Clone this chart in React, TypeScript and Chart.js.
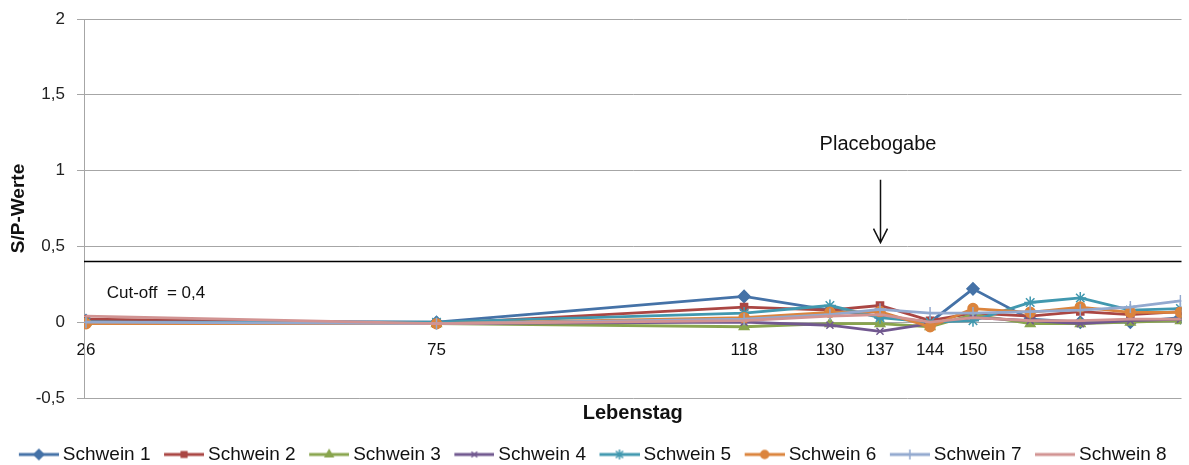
import React, { useEffect, useRef } from "react";
import { Chart, registerables } from "chart.js";
import { drawPoint } from "chart.js/helpers";

Chart.register(...registerables);

// ---- Data ----
const days = [26, 75, 118, 130, 137, 144, 150, 158, 165, 172, 179];
const seriesNames = ["Schwein 1", "Schwein 2", "Schwein 3", "Schwein 4", "Schwein 5", "Schwein 6", "Schwein 7", "Schwein 8"];
const schwein1 = [0.01, 0.0, 0.17, 0.08, 0.04, 0.0, 0.22, 0.02, 0.0, 0.0, 0.03];
const schwein2 = [0.02, -0.01, 0.1, 0.08, 0.11, 0.01, 0.06, 0.04, 0.07, 0.05, 0.07];
const schwein3 = [0.0, -0.01, -0.03, -0.01, -0.01, -0.03, 0.05, -0.01, -0.01, 0.0, 0.01];
const schwein4 = [0.0, -0.01, 0.0, -0.02, -0.06, -0.01, 0.03, 0.01, -0.01, 0.01, 0.02];
const schwein5 = [0.0, 0.0, 0.06, 0.11, 0.03, 0.0, 0.01, 0.13, 0.16, 0.08, 0.09];
const schwein6 = [-0.01, -0.01, 0.03, 0.065, 0.07, -0.03, 0.09, 0.065, 0.1, 0.065, 0.065];
const schwein7 = [0.0, -0.01, 0.02, 0.05, 0.085, 0.06, 0.06, 0.07, 0.08, 0.1, 0.14];
const schwein8 = [0.04, -0.01, 0.01, 0.04, 0.05, 0.0, 0.03, 0.01, 0.01, 0.02, 0.02];
const seriesValues = [schwein1, schwein2, schwein3, schwein4, schwein5, schwein6, schwein7, schwein8];

const yTicks = [-0.5, 0, 0.5, 1, 1.5, 2];
const cutoffValue = 0.4;
const cutoffLabel = "Cut-off  = 0,4";
const placeboDay = 137;
const placeboLabel = "Placebogabe";
const xTitle = "Lebenstag";
const yTitle = "S/P-Werte";

// ---- Styles ----
const colors = ["#4572A7", "#AA4643", "#89A54E", "#71588F", "#4198AF", "#DB843D", "#93A9CF", "#D19392"];
const pointStyles = ["rectRot", "rect", "triangle", "crossRot", "star", "circle", "cross", "line"];
const pointRadii = [6, 5, 5.5, 5, 6, 5, 6, 5];
const FONT = "'Liberation Sans', Arial, sans-serif";

function makeLegendImage(i: number): HTMLCanvasElement {
  const c = document.createElement("canvas");
  c.width = 57;
  c.height = 16;
  const ctx = c.getContext("2d")!;
  ctx.strokeStyle = colors[i];
  ctx.lineWidth = 3;
  ctx.beginPath();
  ctx.moveTo(17, 8);
  ctx.lineTo(57, 8);
  ctx.stroke();
  ctx.fillStyle = colors[i];
  ctx.strokeStyle = colors[i];
  ctx.lineWidth = 1.5;
  drawPoint(ctx, { pointStyle: pointStyles[i], radius: pointRadii[i] - 1, rotation: 0, borderWidth: 1.5 } as any, 37, 8);
  return c;
}

const annotationPlugin = {
  id: "annotations",
  beforeDatasetsDraw(chart: any) {
    const { ctx, chartArea, scales } = chart;
    const yc = scales.y.getPixelForValue(cutoffValue);
    ctx.save();
    ctx.strokeStyle = "#000";
    ctx.lineWidth = 1.5;
    ctx.beginPath();
    ctx.moveTo(chartArea.left, yc);
    ctx.lineTo(chartArea.right, yc);
    ctx.stroke();
    ctx.restore();
  },
  afterDatasetsDraw(chart: any) {
    const { ctx, scales } = chart;
    const { x, y } = scales;
    ctx.save();
    ctx.fillStyle = "#111";
    ctx.font = `17px ${FONT}`;
    ctx.textAlign = "left";
    ctx.textBaseline = "middle";
    ctx.fillText(cutoffLabel, x.getPixelForValue(28.9), y.getPixelForValue(0.19));

    ctx.font = `20px ${FONT}`;
    ctx.textAlign = "center";
    ctx.fillText(placeboLabel, x.getPixelForValue(placeboDay) - 2, y.getPixelForValue(1.17));

    const ax = Math.round(x.getPixelForValue(placeboDay)) + 0.5;
    const top = y.getPixelForValue(0.94);
    const tip = y.getPixelForValue(0.525);
    ctx.strokeStyle = "#111";
    ctx.lineWidth = 1.5;
    ctx.beginPath();
    ctx.moveTo(ax, top);
    ctx.lineTo(ax, tip);
    ctx.moveTo(ax - 7, tip - 14);
    ctx.lineTo(ax, tip);
    ctx.lineTo(ax + 7, tip - 14);
    ctx.stroke();
    ctx.restore();
  },
};

export default function App() {
  const ref = useRef<HTMLCanvasElement>(null);

  useEffect(() => {
    if (!ref.current) return;
    const legendImages = seriesNames.map((_, i) => makeLegendImage(i));
    const datasets = seriesNames.map((name, i) => ({
      label: name,
      data: days.map((d, k) => ({ x: d, y: seriesValues[i][k] })),
      borderColor: colors[i],
      backgroundColor: colors[i],
      borderWidth: 2.8,
      pointStyle: pointStyles[i],
      pointRadius: pointRadii[i],
      pointBorderWidth: 1.5,
      pointBorderColor: colors[i],
      pointBackgroundColor: colors[i],
      tension: 0,
      order: seriesNames.length - i,
    }));

    const chart = new Chart(ref.current, {
      type: "line",
      data: { datasets },
      plugins: [annotationPlugin],
      options: {
        animation: false,
        responsive: false,
        layout: { padding: { top: 19, right: 5, bottom: -9, left: -10 } },
        plugins: {
          tooltip: { enabled: false },
          legend: {
            position: "bottom",
            labels: {
              usePointStyle: true,
              pointStyleWidth: 46,
              padding: 2,
              color: "#111",
              font: { family: FONT, size: 19 },
              generateLabels: () =>
                seriesNames.map((name, i) => ({
                  text: name,
                  fillStyle: colors[i],
                  strokeStyle: colors[i],
                  lineWidth: 0,
                  pointStyle: legendImages[i] as any,
                  hidden: false,
                  datasetIndex: i,
                  fontColor: "#111",
                })),
            },
          },
        },
        scales: {
          x: {
            type: "linear",
            axis: "x",
            position: { y: 0 } as any,
            min: 25.72,
            max: 179.15,
            afterBuildTicks: (scale: any) => {
              scale.ticks = days.map((v) => ({ value: v }));
            },
            afterFit: (scale: any) => {
              scale.paddingRight = 0;
              scale.paddingLeft = 0;
            },
            grid: { display: false },
            border: { display: true, color: "#a6a6a6", width: 1 },
            ticks: {
              autoSkip: false,
              maxRotation: 0,
              padding: 10,
              color: "#111",
              font: { family: FONT, size: 17 },
              callback: (v: any, i: number, t: any[]) =>
                i === t.length - 1 ? String(v) + "\u00a0\u00a0\u00a0\u00a0\u00a0" : String(v),
            },
          },
          x2: {
            type: "linear",
            axis: "x",
            position: "bottom",
            min: 0,
            max: 1,
            afterFit: (scale: any) => {
              scale.height = 45;
              scale.paddingLeft = 0;
              scale.paddingRight = 0;
            },
            grid: { display: false },
            border: { display: false },
            ticks: { display: false },
            title: {
              display: true,
              text: xTitle,
              color: "#111",
              font: { family: FONT, size: 20, weight: "bold" },
              padding: { top: 0, bottom: 18 },
            },
          },
          y: {
            type: "linear",
            min: -0.5,
            max: 2,
            afterBuildTicks: (scale: any) => {
              scale.ticks = yTicks.map((v) => ({ value: v }));
            },
            afterFit: (scale: any) => {
              scale.width = 94;
              scale.paddingTop = 0;
              scale.paddingBottom = 0;
            },
            grid: { color: "#a6a6a6", lineWidth: 1, tickLength: 7, drawTicks: true },
            border: { display: true, color: "#a6a6a6", width: 1 },
            ticks: {
              padding: 12,
              color: "#222",
              font: { family: FONT, size: 17 },
              callback: (v: any) => String(v).replace(".", ","),
            },
            title: {
              display: true,
              text: yTitle,
              color: "#111",
              font: { family: FONT, size: 19, weight: "bold" },
              padding: { top: 17, bottom: 0 },
            },
          },
        },
      },
    });
    return () => chart.destroy();
  }, []);

  return (
    <div style={{ position: "fixed", left: 0, top: 0, width: 1189, height: 465, background: "#fff" }}>
      <canvas ref={ref} width={1189} height={465} style={{ display: "block" }} />
    </div>
  );
}
